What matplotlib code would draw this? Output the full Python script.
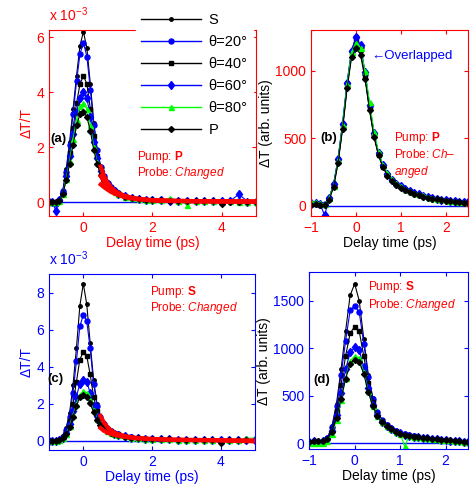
import numpy as np
import matplotlib
matplotlib.use('Agg')
import matplotlib.pyplot as plt
from matplotlib.lines import Line2D

plt.style.use('default')
matplotlib.rcParams['font.family'] = ['Liberation Sans', 'DejaVu Sans']
matplotlib.rcParams['font.size'] = 10
matplotlib.rcParams['mathtext.fontset'] = 'custom'
matplotlib.rcParams['mathtext.rm'] = 'Liberation Sans'
matplotlib.rcParams['mathtext.it'] = 'Liberation Sans:italic'
matplotlib.rcParams['mathtext.bf'] = 'Liberation Sans:bold'

####################################################################
# data
####################################################################
labels = ['S', 'θ=20°', 'θ=40°', 'θ=60°', 'θ=80°', 'P']

# delay grid for panels (a) and (c), ps
t_long = [-1.0, -0.9, -0.8, -0.7, -0.6, -0.5, -0.4, -0.3, -0.2, -0.1, 0.0,
          0.1, 0.2, 0.3, 0.4, 0.5, 0.6, 0.7, 0.8, 0.9, 1.0, 1.2, 1.4, 1.6,
          1.8, 2.0, 2.25, 2.5, 2.75, 3.0, 3.25, 3.5, 3.75, 4.0, 4.25, 4.5,
          4.75, 5.0]
# delay grid for panels (b) and (d), ps
t_short = [-1.0, -0.9, -0.8, -0.7, -0.6, -0.5, -0.4, -0.3, -0.2, -0.1, 0.0,
           0.1, 0.2, 0.3, 0.4, 0.5, 0.6, 0.7, 0.8, 0.9, 1.0, 1.1, 1.2, 1.3,
           1.4, 1.5, 1.6, 1.7, 1.8, 1.9, 2.0, 2.1, 2.2, 2.3, 2.4, 2.5]
# fit grid
t_fit = [0.5, 0.6, 0.7, 0.8, 0.9, 1.0, 1.2, 1.4, 1.6, 1.8, 2.0, 2.5, 3.0,
         3.5, 4.0, 4.5, 5.0]

# (a) pump P, dT/T x 1e-3
a_S = [0.0, 0.02, 0.0, 0.1, 0.4, 1.2, 2.2, 3.4, 4.6, 5.7, 6.2, 5.6, 4.3, 2.9,
       1.9, 1.3, 0.95, 0.7, 0.55, 0.42, 0.35, 0.24, 0.17, 0.13, 0.1, 0.09,
       0.08, 0.07, 0.06, 0.06, 0.05, 0.05, 0.05, 0.04, 0.04, 0.04, 0.03, 0.03]
a_20 = [0.0, 0.0, -0.05, 0.1, 0.4, 1.1, 2.1, 3.2, 4.4, 5.4, 5.8, 5.3, 4.1, 2.8,
        1.9, 1.3, 0.95, 0.7, 0.55, 0.42, 0.35, 0.24, 0.17, 0.13, 0.1, 0.09,
        0.08, 0.07, 0.06, 0.06, 0.05, 0.05, 0.05, 0.05, 0.04, 0.04, 0.03, 0.03]
a_40 = [0.0, 0.0, 0.0, 0.1, 0.35, 1.0, 1.8, 2.7, 3.6, 4.3, 4.6, 4.3, 3.4, 2.4,
        1.7, 1.2, 0.9, 0.68, 0.52, 0.4, 0.33, 0.23, 0.16, 0.12, 0.1, 0.08,
        0.07, 0.06, 0.06, 0.05, 0.05, 0.05, 0.04, 0.04, 0.04, 0.03, 0.03, 0.03]
a_60 = [0.0, 0.0, -0.3, 0.1, 0.35, 0.95, 1.7, 2.5, 3.3, 3.8, 4.0, 3.8, 3.1, 2.2,
        1.6, 1.15, 0.85, 0.65, 0.5, 0.4, 0.32, 0.22, 0.16, 0.12, 0.1, 0.08,
        0.07, 0.06, 0.06, 0.05, 0.05, 0.05, 0.04, 0.04, 0.04, 0.3, 0.03, 0.03]
a_80 = [0.0, 0.0, 0.0, 0.05, 0.3, 0.85, 1.5, 2.3, 3.0, 3.5, 3.6, 3.4, 2.8, 2.0,
        1.45, 1.05, 0.8, 0.6, 0.47, 0.38, 0.3, 0.21, 0.15, 0.11, 0.09, 0.08,
        0.07, 0.15, 0.06, -0.08, 0.05, 0.05, 0.04, 0.04, 0.04, 0.03, 0.03, 0.03]
a_P = [0.0, 0.0, 0.0, 0.05, 0.3, 0.8, 1.4, 2.1, 2.8, 3.2, 3.3, 3.1, 2.6, 1.9,
       1.4, 1.0, 0.78, 0.6, 0.47, 0.38, 0.3, 0.21, 0.15, 0.11, 0.09, 0.08,
       0.07, 0.06, 0.05, 0.05, 0.05, 0.04, 0.04, -0.05, 0.03, 0.03, 0.03, 0.03]
a_fit1 = [1.3, 0.95, 0.72, 0.55, 0.43, 0.35, 0.24, 0.17, 0.13, 0.1, 0.08,
          0.06, 0.05, 0.04, 0.04, 0.03, 0.03]
a_fit2 = [0.95, 0.75, 0.6, 0.48, 0.39, 0.32, 0.22, 0.16, 0.12, 0.1, 0.08,
          0.06, 0.05, 0.04, 0.04, 0.03, 0.03]
a_fit3 = [0.65, 0.55, 0.46, 0.38, 0.32, 0.27, 0.19, 0.14, 0.11, 0.09, 0.07,
          0.05, 0.04, 0.04, 0.03, 0.03, 0.03]

# (b) pump P, dT arb. units
b_S = [10, 15, 5, 10, 50, 150, 330, 580, 880, 1120, 1220, 1150, 960, 720, 520,
       380, 290, 230, 190, 160, 140, 120, 105, 92, 82, 73, 65, 58, 52, 46, 42,
       38, 34, 30, 27, 25]
b_20 = [20, 20, 10, 15, 60, 160, 350, 610, 910, 1150, 1250, 1180, 980, 740,
        530, 390, 300, 240, 195, 165, 145, 125, 110, 96, 86, 76, 68, 60, 54,
        48, 44, 40, 36, 32, 28, 26]
b_40 = [15, 15, 10, 10, 55, 150, 330, 590, 890, 1130, 1230, 1160, 960, 720,
        520, 380, 290, 230, 190, 160, 140, 120, 105, 92, 82, 73, 65, 58, 52,
        46, 42, 38, 34, 30, 27, 25]
b_60 = [20, 25, 15, -70, 60, 160, 350, 610, 910, 1150, 1250, 1190, 990, 750,
        540, 395, 300, 240, 195, 165, 145, 125, 110, 96, 86, 76, 68, 60, 54,
        48, 44, 40, 36, 32, 28, 26]
b_80 = [30, 30, 20, 15, 60, 150, 340, 600, 900, 1140, 1210, 1170, 1000, 770,
        550, 400, 305, 245, 200, 168, 148, 128, 112, 98, 88, 80, 70, 62, 55,
        50, 45, 40, 36, 32, 28, 26]
b_P = [10, 15, 5, 10, 45, 140, 320, 570, 870, 1100, 1170, 1120, 940, 710, 510,
       375, 285, 225, 185, 155, 135, 115, 100, 88, 78, 70, 62, 55, 50, 44, 40,
       36, 32, 28, 25, 22]

# (c) pump S, dT/T x 1e-3
c_S = [0.0, 0.0, 0.0, 0.05, 0.25, 0.7, 1.5, 3.0, 5.0, 7.3, 8.5, 7.4, 5.3, 3.3,
       2.0, 1.35, 0.95, 0.7, 0.55, 0.45, 0.38, 0.27, 0.2, 0.16, 0.13, 0.11,
       0.1, 0.09, 0.08, 0.07, 0.06, 0.05, 0.05, 0.0, 0.05, 0.05, 0.04, 0.04]
c_20 = [0.0, 0.0, 0.0, 0.05, 0.2, 0.6, 1.3, 2.6, 4.3, 6.2, 6.8, 6.5, 5.0, 3.1,
        1.9, 1.3, 0.92, 0.68, 0.54, 0.44, 0.37, 0.26, 0.19, 0.15, 0.12, 0.1,
        0.09, 0.08, 0.07, 0.06, 0.06, 0.05, 0.05, 0.04, 0.04, 0.04, 0.04, 0.04]
c_40 = [0.0, 0.0, 0.0, 0.05, 0.2, 0.5, 1.1, 2.0, 3.2, 4.4, 4.8, 4.6, 3.6, 2.4,
        1.6, 1.15, 0.85, 0.65, 0.52, 0.43, 0.36, 0.26, 0.19, 0.15, 0.12, 0.1,
        0.09, 0.08, 0.07, 0.06, 0.06, 0.05, 0.05, 0.04, 0.04, 0.04, 0.04, 0.04]
c_60 = [0.0, 0.0, 0.0, 0.05, 0.15, 0.45, 0.9, 1.6, 2.4, 3.1, 3.3, 3.2, 2.6,
        1.9, 1.35, 1.0, 0.78, 0.6, 0.48, 0.4, 0.34, 0.25, 0.18, 0.14, 0.12,
        0.1, 0.09, 0.08, 0.07, 0.06, 0.06, 0.05, 0.05, 0.05, 0.04, 0.04, 0.04,
        0.04]
c_80 = [0.0, 0.05, 0.0, 0.05, 0.15, 0.4, 0.8, 1.4, 2.0, 2.5, 2.7, 2.6, 2.2,
        1.65, 1.2, 0.9, 0.7, 0.55, 0.45, 0.38, 0.32, 0.24, 0.18, 0.14, 0.12,
        0.1, 0.09, 0.08, 0.07, 0.06, 0.06, 0.05, 0.05, 0.05, 0.04, 0.04, 0.15,
        0.15]
c_P = [0.0, 0.0, 0.0, 0.05, 0.15, 0.35, 0.75, 1.3, 1.9, 2.35, 2.5, 2.4, 2.05,
       1.55, 1.15, 0.88, 0.68, 0.54, 0.44, 0.37, 0.31, 0.23, 0.17, 0.14, 0.11,
       0.1, 0.09, 0.08, 0.07, 0.06, 0.06, 0.05, 0.05, -0.1, 0.05, 0.04, 0.04,
       0.04]
c_fit1 = [1.35, 1.0, 0.75, 0.58, 0.46, 0.38, 0.27, 0.2, 0.16, 0.13, 0.11,
          0.08, 0.06, 0.05, 0.04, 0.03, 0.03]
c_fit2 = [0.7, 0.55, 0.45, 0.38, 0.33, 0.29, 0.22, 0.17, 0.14, 0.12, 0.1,
          0.07, 0.05, 0.04, 0.03, 0.0, -0.02]

# (d) pump S, dT arb. units
d_S = [20, 30, 20, 30, 60, 180, 420, 780, 1180, 1560, 1680, 1500, 1100, 720,
       480, 330, 250, 195, 160, 130, 110, 95, 85, 75, 68, 60, 55, 50, 45, 40,
       35, 30, 28, 25, 20, 18]
d_20 = [15, 25, 20, 30, 55, 170, 390, 720, 1080, 1400, 1450, 1380, 1050, 700,
        470, 330, 250, 195, 160, 130, 110, 95, 85, 75, 68, 60, 55, 50, 45, 40,
        35, 30, 28, 25, 20, 18]
d_40 = [15, 25, 20, 30, 50, 150, 340, 620, 920, 1160, 1230, 1180, 920, 640,
        440, 310, 240, 190, 155, 128, 108, 94, 84, 74, 67, 60, 55, 50, 45, 40,
        35, 30, 28, 25, 20, 18]
d_60 = [15, 25, 20, 30, 50, 130, 300, 530, 780, 960, 1010, 980, 800, 580, 410,
        300, 230, 185, 150, 125, 106, 92, 82, 73, 66, 60, 55, 50, 45, 40, 35,
        30, 28, 25, 20, 18]
d_80 = [5, 10, 0, 10, 30, 100, 250, 460, 690, 870, 920, 900, 750, 550, 390,
        290, 225, 180, 148, 122, 104, -30, 80, 72, 65, 58, 53, 48, 44, 40, 36,
        32, 28, 25, 20, 15]
d_P = [20, 30, 25, 30, 50, 120, 270, 470, 680, 840, 880, 860, 730, 540, 390,
       290, 225, 180, 148, 122, 104, 92, 82, 73, 66, 58, 53, 48, 44, 40, 36,
       32, 28, 25, 20, 18]

####################################################################
# styles
####################################################################
BLUE = (0, 0, 1)
GREEN = (0, 1, 0)
RED = (1, 0, 0)
styles = [dict(color='k', marker='.', ms=5),
          dict(color=BLUE, marker='o', ms=3.6),
          dict(color='k', marker='s', ms=3.5),
          dict(color=BLUE, marker='d', ms=4.5),
          dict(color=GREEN, marker='^', ms=3.6),
          dict(color='k', marker='D', ms=3)]


def style_axes(ax, axcol, tickcol, xlabcol, ylabcol, ylabel):
    for sp in ax.spines.values():
        sp.set_color(axcol)
    ax.tick_params(direction='in', top=True, right=True, length=3,
                   colors=axcol, labelcolor=tickcol, labelsize=10)
    ax.set_xlabel('Delay time (ps)', color=xlabcol, fontsize=10, labelpad=1)
    ax.set_ylabel(ylabel, color=ylabcol, fontsize=10, labelpad=2)


def draw(ax, t, series, fits, tfit):
    ax.axhline(0, color=BLUE, lw=1, zorder=1)
    for y, st in zip(series, styles):
        ax.plot(t, y, lw=0.8, zorder=2, **st)
    for f in fits:
        ax.plot(tfit, f, color=RED, lw=3, zorder=3)


fig = plt.figure(figsize=(4.75, 4.98), dpi=100)
ax_a = fig.add_axes([0.103, 0.566, 0.436, 0.373])
ax_b = fig.add_axes([0.655, 0.566, 0.331, 0.373])
ax_c = fig.add_axes([0.103, 0.096, 0.434, 0.353])
ax_d = fig.add_axes([0.651, 0.098, 0.335, 0.355])

# (a)
draw(ax_a, t_long, [a_S, a_20, a_40, a_60, a_80, a_P], [a_fit1, a_fit2, a_fit3], t_fit)
ax_a.set_xlim(-1, 5)
ax_a.set_ylim(-0.5, 6.25)
ax_a.set_xticks([0, 2, 4])
ax_a.set_yticks([0, 2, 4, 6])
style_axes(ax_a, RED, RED, RED, RED, 'ΔT/T')
ax_a.text(0.0, 1.035, r'x 10$^{-3}$', transform=ax_a.transAxes, color=RED,
          fontsize=10, va='bottom', ha='left')
ax_a.text(-0.95, 2.2, '(a)', fontweight='bold', fontsize=9.5)
ax_a.text(1.55, 1.55, r'Pump: $\mathbf{P}$', color=RED, fontsize=8.5)
ax_a.text(1.55, 0.95, r'Probe: $\it{Changed}$', color=RED, fontsize=8.5)

# (b)
draw(ax_b, t_short, [b_S, b_20, b_40, b_60, b_80, b_P], [], t_fit)
ax_b.set_xlim(-1, 2.5)
ax_b.set_ylim(-75, 1300)
ax_b.set_xticks([-1, 0, 1, 2])
ax_b.set_yticks([0, 500, 1000])
style_axes(ax_b, RED, RED, 'k', 'k', 'ΔT (arb. units)')
ax_b.text(0.33, 1110, '←Overlapped', color=BLUE, fontsize=9.5, va='center')
ax_b.text(-0.8, 505, '(b)', fontweight='bold', fontsize=9.5, va='center')
ax_b.text(0.85, 480, r'Pump: $\mathbf{P}$', color=RED, fontsize=8.5)
ax_b.text(0.85, 355, r'Probe: $\it{Ch}$–', color=RED, fontsize=8.5)
ax_b.text(0.85, 230, r'$\it{anged}$', color=RED, fontsize=8.5)

# (c)
draw(ax_c, t_long, [c_S, c_20, c_40, c_60, c_80, c_P], [c_fit1, c_fit2], t_fit)
ax_c.set_xlim(-1, 5)
ax_c.set_ylim(-0.5, 9)
ax_c.set_xticks([0, 2, 4])
ax_c.set_yticks([0, 2, 4, 6, 8])
style_axes(ax_c, BLUE, BLUE, BLUE, BLUE, 'ΔT/T')
ax_c.text(0.0, 1.035, r'x 10$^{-3}$', transform=ax_c.transAxes, color=BLUE,
          fontsize=10, va='bottom', ha='left')
ax_c.text(-1.05, 3.2, '(c)', fontweight='bold', fontsize=9.5)
ax_c.text(1.95, 7.9, r'Pump: $\mathbf{S}$', color=RED, fontsize=8.5)
ax_c.text(1.95, 7.0, r'Probe: $\it{Changed}$', color=RED, fontsize=8.5)

# (d)
draw(ax_d, t_short, [d_S, d_20, d_40, d_60, d_80, d_P], [], t_fit)
ax_d.set_xlim(-1, 2.5)
ax_d.set_ylim(-60, 1800)
ax_d.set_xticks([-1, 0, 1, 2])
ax_d.set_yticks([0, 500, 1000, 1500])
style_axes(ax_d, BLUE, BLUE, 'k', 'k', 'ΔT (arb. units)')
ax_d.text(-0.9, 640, '(d)', fontweight='bold', fontsize=9.5)
ax_d.text(0.3, 1610, r'Pump: $\mathbf{S}$', color=RED, fontsize=8.5)
ax_d.text(0.3, 1430, r'Probe: $\it{Changed}$', color=RED, fontsize=8.5)

# legend across the top of (a)
handles = [Line2D([], [], lw=1, **st) for st in styles]
leg = fig.legend(handles, labels, loc='upper left',
                 bbox_to_anchor=(0.27, 1.0), fontsize=10.5,
                 handlelength=4.1, handletextpad=0.5, labelspacing=0.55,
                 borderpad=0.4, frameon=True, fancybox=False)
leg.get_frame().set_edgecolor('white')
leg.get_frame().set_facecolor('white')
leg.get_frame().set_alpha(1)

plt.savefig('out.png', dpi=100)
plt.close()
